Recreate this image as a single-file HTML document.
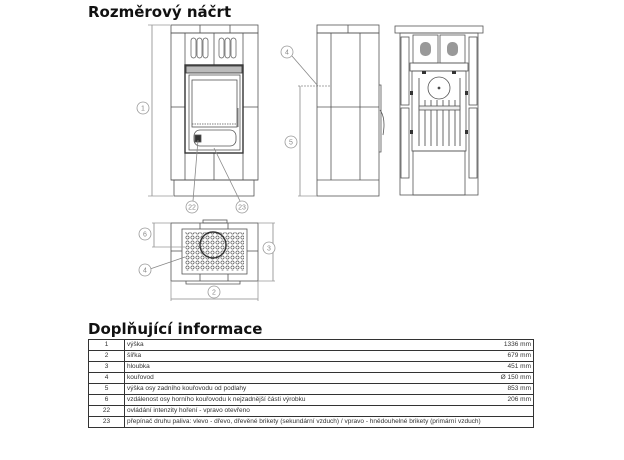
<!DOCTYPE html>
<html><head><meta charset="utf-8"><style>
body{margin:0;background:#fff;width:624px;height:460px;overflow:hidden;font-family:"Liberation Sans","DejaVu Sans",sans-serif}
.h{position:absolute;left:88px;font-weight:bold;font-size:15px;color:#111;font-family:"DejaVu Sans",sans-serif}
table{position:absolute;left:88px;top:339px;width:446px;border-collapse:collapse;font-size:6.5px;color:#333}
td{border:1px solid #333;height:10px;padding:0 2px;line-height:10px;white-space:nowrap}
td.n{width:31px;text-align:center}
td.v{text-align:right;border-left:none}
td.t{border-right:none}
</style></head><body>
<div class="h" style="top:3px">Rozměrový náčrt</div>
<div class="h" style="top:320px">Doplňující informace</div>
<svg width="624" height="320" style="position:absolute;left:0;top:0" fill="none" stroke="#555" stroke-width="0.8">
<defs><pattern id="d" width="5" height="5" patternUnits="userSpaceOnUse"><circle cx="2.5" cy="2.5" r="1.6" fill="#fff" stroke="#444" stroke-width="0.6"/></pattern></defs>
<!-- front -->
<rect x="171" y="25" width="87" height="8"/><line x1="200" y1="25" x2="200" y2="33"/><line x1="230" y1="25" x2="230" y2="33"/>
<rect x="171" y="33" width="87" height="147"/>
<line x1="185" y1="33" x2="185" y2="180"/><line x1="243" y1="33" x2="243" y2="180"/>
<line x1="171" y1="107" x2="185" y2="107"/><line x1="243" y1="107" x2="258" y2="107"/>
<line x1="214" y1="33" x2="214" y2="65"/><line x1="214" y1="153" x2="214" y2="180"/>
<g stroke-width="0.7"><rect x="191" y="38" width="5" height="20" rx="2.5"/><rect x="197" y="38" width="5" height="20" rx="2.5"/><rect x="203" y="38" width="5" height="20" rx="2.5"/><rect x="219" y="38" width="5" height="20" rx="2.5"/><rect x="225" y="38" width="5" height="20" rx="2.5"/><rect x="231" y="38" width="5" height="20" rx="2.5"/></g>
<rect x="185" y="65" width="58" height="88" stroke="#333" stroke-width="1.4"/>
<rect x="186" y="66" width="56" height="7" fill="#bbb" stroke="#333"/>
<rect x="189" y="75" width="51" height="75"/>
<rect x="192" y="80" width="45" height="47"/>
<line x1="192" y1="124" x2="237" y2="124" stroke-dasharray="1.5 1"/>
<line x1="238" y1="108" x2="238" y2="127"/>
<rect x="194" y="130" width="42" height="16" rx="6"/>
<rect x="195" y="135" width="6" height="7" fill="#333"/>
<line x1="171" y1="180" x2="258" y2="180"/>
<rect x="174" y="180" width="80" height="16"/>
<line x1="152" y1="25" x2="152" y2="196" stroke="#888"/><line x1="148" y1="25" x2="170" y2="25" stroke="#999"/><line x1="148" y1="196" x2="173" y2="196" stroke="#999"/>
<line x1="198" y1="140" x2="193" y2="201" stroke="#888"/><line x1="214" y1="148" x2="240" y2="201" stroke="#888"/>
<!-- side -->
<rect x="317" y="25" width="62" height="8"/><line x1="348" y1="25" x2="348" y2="33"/>
<rect x="317" y="33" width="62" height="163"/>
<line x1="331" y1="33" x2="331" y2="180"/><line x1="360" y1="33" x2="360" y2="180"/>
<line x1="317" y1="107" x2="379" y2="107"/><line x1="317" y1="180" x2="379" y2="180"/>
<path d="M379 85 L381 85 L381 152 L379 152"/><path d="M380 110 Q386 118 383 135"/>
<line x1="300" y1="86" x2="300" y2="196" stroke="#888"/><line x1="298" y1="86" x2="330" y2="86" stroke="#888" stroke-dasharray="2 1"/><line x1="298" y1="196" x2="317" y2="196" stroke="#999"/>
<line x1="292" y1="56" x2="318" y2="86" stroke="#888"/>
<!-- back -->
<rect x="395" y="26" width="88" height="7"/><rect x="400" y="33" width="78" height="162"/>
<rect x="401" y="37" width="8" height="68"/><rect x="469" y="37" width="8" height="68"/>
<rect x="401" y="108" width="8" height="70"/><rect x="469" y="108" width="8" height="70"/>
<rect x="413" y="35" width="25" height="28"/><rect x="440" y="35" width="25" height="28"/>
<g fill="#999" stroke="none"><rect x="420" y="42" width="11" height="14" rx="5"/><rect x="447" y="42" width="11" height="14" rx="5"/></g>
<rect x="410" y="63" width="58" height="8"/>
<rect x="412" y="71" width="54" height="80"/>
<circle cx="439" cy="88" r="11"/><circle cx="439" cy="88" r="1" fill="#333"/>
<g stroke="#444"><line x1="419" y1="78" x2="419" y2="146"/><line x1="425" y1="100" x2="425" y2="146"/><line x1="431" y1="100" x2="431" y2="146"/><line x1="437" y1="100" x2="437" y2="146"/><line x1="443" y1="100" x2="443" y2="146"/><line x1="449" y1="100" x2="449" y2="146"/><line x1="455" y1="100" x2="455" y2="146"/><line x1="460" y1="78" x2="460" y2="146"/></g>
<rect x="419" y="106" width="41" height="4" fill="#eee"/>
<rect x="413" y="151" width="52" height="44"/>
<g fill="#333" stroke="none"><rect x="410" y="91" width="3" height="4"/><rect x="465" y="91" width="3" height="4"/><rect x="410" y="130" width="3" height="4"/><rect x="465" y="130" width="3" height="4"/><rect x="422" y="71" width="4" height="3"/><rect x="452" y="71" width="4" height="3"/></g>
<!-- top -->
<rect x="171" y="223" width="87" height="58"/>
<rect x="203" y="220" width="24" height="3"/>
<line x1="200" y1="223" x2="200" y2="229"/><line x1="228" y1="223" x2="228" y2="229"/><line x1="200" y1="274" x2="200" y2="281"/><line x1="228" y1="274" x2="228" y2="281"/>
<line x1="171" y1="251" x2="182" y2="251"/><line x1="247" y1="251" x2="258" y2="251"/>
<rect x="182" y="229" width="65" height="45"/>
<rect x="185" y="232" width="59" height="39" fill="url(#d)" stroke="none"/>
<circle cx="213" cy="245" r="13" stroke="#333" stroke-width="1.4"/>
<path d="M186 281 L186 284 L240 284 L240 281"/>
<line x1="171" y1="299" x2="258" y2="299" stroke="#888"/><line x1="171" y1="281" x2="171" y2="301" stroke="#999"/><line x1="258" y1="281" x2="258" y2="301" stroke="#999"/>
<line x1="273" y1="223" x2="273" y2="281" stroke="#888"/><line x1="258" y1="223" x2="275" y2="223" stroke="#999"/><line x1="258" y1="281" x2="275" y2="281" stroke="#999"/>
<line x1="154" y1="223" x2="154" y2="247" stroke="#888"/><line x1="152" y1="223" x2="171" y2="223" stroke="#999"/><line x1="152" y1="247" x2="185" y2="247" stroke="#999"/>
<line x1="150" y1="269" x2="185" y2="257" stroke="#888"/>
<!-- callouts -->
<g stroke="#999" fill="#fff">
<circle cx="143" cy="108" r="6"/><circle cx="192" cy="207" r="6"/><circle cx="242" cy="207" r="6"/>
<circle cx="287" cy="52" r="6"/><circle cx="291" cy="142" r="6"/>
<circle cx="145" cy="234" r="6"/><circle cx="145" cy="270" r="6"/><circle cx="269" cy="248" r="6"/><circle cx="214" cy="292" r="6"/>
</g>
<g fill="#888" stroke="none" font-size="7" text-anchor="middle" font-family="Liberation Sans,sans-serif">
<text x="143" y="110.5">1</text><text x="192" y="209.5">22</text><text x="242" y="209.5">23</text>
<text x="287" y="54.5">4</text><text x="291" y="144.5">5</text>
<text x="145" y="236.5">6</text><text x="145" y="272.5">4</text><text x="269" y="250.5">3</text><text x="214" y="294.5">2</text>
</g>
</svg>
<table>
<tr><td class="n">1</td><td class="t">výška</td><td class="v">1336 mm</td></tr>
<tr><td class="n">2</td><td class="t">šířka</td><td class="v">679 mm</td></tr>
<tr><td class="n">3</td><td class="t">hloubka</td><td class="v">451 mm</td></tr>
<tr><td class="n">4</td><td class="t">kouřovod</td><td class="v">Ø 150 mm</td></tr>
<tr><td class="n">5</td><td class="t">výška osy zadního kouřovodu od podlahy</td><td class="v">853 mm</td></tr>
<tr><td class="n">6</td><td class="t">vzdálenost osy horního kouřovodu k nejzadnější části výrobku</td><td class="v">206 mm</td></tr>
<tr><td class="n">22</td><td class="t">ovládání intenzity hoření - vpravo otevřeno</td><td class="v"></td></tr>
<tr><td class="n">23</td><td class="t">přepínač druhu paliva: vlevo - dřevo, dřevěné brikety (sekundární vzduch) / vpravo - hnědouhelné brikety (primární vzduch)</td><td class="v"></td></tr>
</table>
</body></html>
